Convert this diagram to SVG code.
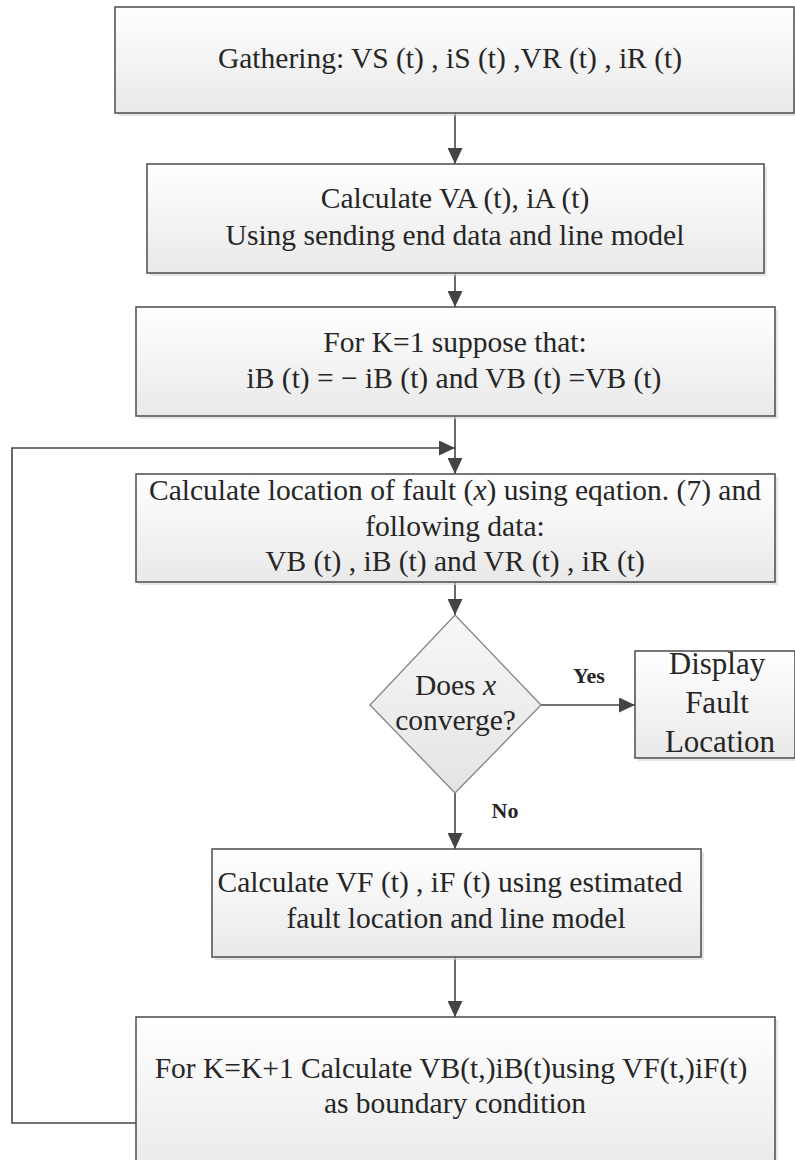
<svg xmlns="http://www.w3.org/2000/svg" width="795" height="1160" viewBox="0 0 795 1160">
<style>
  .box { stroke: #555555; stroke-width: 1.6; fill: url(#boxGrad); }
  .shadow { fill: #d6d6d6; opacity: 0.6; }
  .dia { stroke: #8a8a8a; stroke-width: 1.4; fill: url(#diaGrad); }
  .t { font-family: "Liberation Serif", "Times New Roman", serif; font-size: 29.5px; fill: #262626; text-anchor: middle; }
  .big { font-size: 31px; }
  .lbl { font-family: "Liberation Serif", "Times New Roman", serif; font-size: 22px; font-weight: bold; fill: #262626; text-anchor: middle; }
  .conn { stroke: #444444; stroke-width: 1.6; fill: none; }
</style>
<defs>
  <linearGradient id="boxGrad" x1="0" y1="0" x2="0" y2="1">
    <stop offset="0" stop-color="#ffffff"/>
    <stop offset="1" stop-color="#e9e9e9"/>
  </linearGradient>
  <linearGradient id="diaGrad" x1="0" y1="0" x2="0" y2="1">
    <stop offset="0" stop-color="#f7f7f7"/>
    <stop offset="1" stop-color="#e4e4e4"/>
  </linearGradient>
  <marker id="arrow" markerUnits="userSpaceOnUse" markerWidth="16" markerHeight="15" refX="16" refY="7.5" orient="auto">
    <path d="M0,0 L16,7.5 L0,15 z" fill="#444444"/>
  </marker>
</defs>
<rect width="795" height="1160" fill="#ffffff"/>

<g id="connectors">
  <line class="conn" x1="455" y1="113" x2="455" y2="164" marker-end="url(#arrow)"/>
  <line class="conn" x1="455" y1="273" x2="455" y2="307" marker-end="url(#arrow)"/>
  <line class="conn" x1="455" y1="416" x2="455" y2="474" marker-end="url(#arrow)"/>
  <line class="conn" x1="455" y1="582" x2="455" y2="615" marker-end="url(#arrow)"/>
  <line class="conn" x1="541" y1="705" x2="635" y2="705" marker-end="url(#arrow)"/>
  <line class="conn" x1="455" y1="793" x2="455" y2="849" marker-end="url(#arrow)"/>
  <line class="conn" x1="455" y1="957" x2="455" y2="1017" marker-end="url(#arrow)"/>
  <polyline class="conn" points="136,1123 12,1123 12,448 455,448" marker-end="url(#arrow)"/>
  <text class="lbl" x="589" y="683">Yes</text>
  <text class="lbl" x="505" y="818">No</text>
</g>

<g id="gather">
  <rect class="shadow" x="118" y="10" width="679" height="106"/>
  <rect class="box" x="115" y="7" width="679" height="106"/>
  <text class="t" x="450" y="68">Gathering: VS (t) , iS (t) ,VR (t) , iR (t)</text>
</g>

<g id="calcVA">
  <rect class="shadow" x="150" y="167" width="617" height="109"/>
  <rect class="box" x="147" y="164" width="617" height="109"/>
  <text class="t" x="455" y="208">Calculate VA (t), iA (t)</text>
  <text class="t" x="455" y="245">Using sending end data and line model</text>
</g>

<g id="initK">
  <rect class="shadow" x="139" y="310" width="639" height="109"/>
  <rect class="box" x="136" y="307" width="639" height="109"/>
  <text class="t" x="455" y="352">For K=1 suppose that:</text>
  <text class="t" x="454" y="388">iB (t) = − iB (t) and VB (t) =VB (t)</text>
</g>

<g id="calcLoc">
  <rect class="shadow" x="139" y="477" width="639" height="108"/>
  <rect class="box" x="136" y="474" width="639" height="108"/>
  <text class="t" x="455" y="500">Calculate location of fault (<tspan font-style="italic">x</tspan>) using eqation. (7) and</text>
  <text class="t" x="455" y="536">following data:</text>
  <text class="t" x="455" y="571">VB (t) , iB (t) and VR (t) , iR (t)</text>
</g>

<g id="converge">
  <polygon class="dia" points="455,615 541,705 455,793 370,705"/>
  <text class="t" x="455.5" y="695">Does <tspan font-style="italic">x</tspan></text>
  <text class="t" x="455.5" y="730">converge?</text>
</g>

<g id="display">
  <rect class="shadow" x="638" y="654" width="160" height="107"/>
  <rect class="box" x="635" y="651" width="160" height="107"/>
  <text class="t big" x="717" y="674">Display</text>
  <text class="t big" x="717" y="713">Fault</text>
  <text class="t big" x="720" y="752">Location</text>
</g>

<g id="calcVF">
  <rect class="shadow" x="215" y="852" width="489" height="108"/>
  <rect class="box" x="212" y="849" width="489" height="108"/>
  <text class="t" x="450" y="892">Calculate VF (t) , iF (t) using estimated</text>
  <text class="t" x="456" y="928">fault location and line model</text>
</g>

<g id="nextK">
  <rect class="shadow" x="139" y="1020" width="639" height="160"/>
  <rect class="box" x="136" y="1017" width="639" height="160"/>
  <text class="t" x="451" y="1078">For K=K+1 Calculate VB(t,)iB(t)using VF(t,)iF(t)</text>
  <text class="t" x="455" y="1113">as boundary condition</text>
</g>
</svg>
